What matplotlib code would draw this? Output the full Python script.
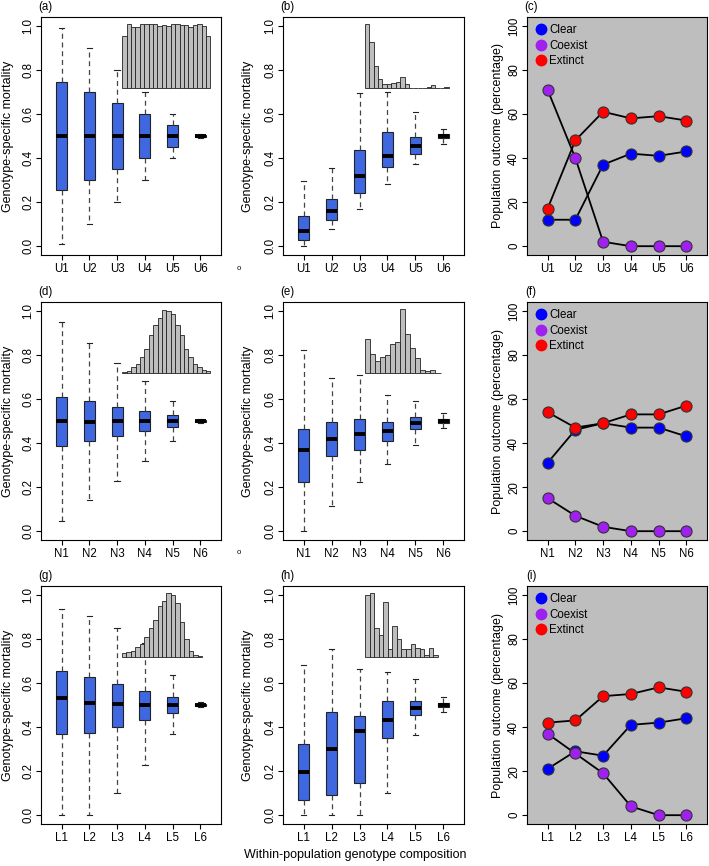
import matplotlib
matplotlib.use('Agg')
import matplotlib.pyplot as plt
from matplotlib.lines import Line2D

plt.rcParams['font.family'] = ['Liberation Sans', 'DejaVu Sans']

# group labels
labels_u = ['U1', 'U2', 'U3', 'U4', 'U5', 'U6']
labels_n = ['N1', 'N2', 'N3', 'N4', 'N5', 'N6']
labels_l = ['L1', 'L2', 'L3', 'L4', 'L5', 'L6']

# box stats per group: (whisker low, q1, median, q3, whisker high)
box_a = [(0.008, 0.255, 0.50, 0.745, 0.99), (0.10, 0.30, 0.50, 0.70, 0.90),
         (0.20, 0.35, 0.50, 0.65, 0.80), (0.30, 0.40, 0.50, 0.60, 0.70),
         (0.40, 0.45, 0.50, 0.55, 0.60), (0.49, 0.495, 0.50, 0.505, 0.51)]
box_b = [(0.0, 0.03, 0.07, 0.135, 0.295), (0.08, 0.12, 0.16, 0.215, 0.357),
         (0.17, 0.243, 0.318, 0.435, 0.695), (0.28, 0.36, 0.41, 0.518, 0.70),
         (0.375, 0.42, 0.455, 0.495, 0.61), (0.465, 0.49, 0.50, 0.51, 0.53)]
box_d = [(0.047, 0.385, 0.50, 0.61, 0.95), (0.14, 0.41, 0.497, 0.59, 0.855),
         (0.23, 0.43, 0.498, 0.565, 0.765), (0.32, 0.455, 0.50, 0.545, 0.68),
         (0.41, 0.475, 0.50, 0.525, 0.59), (0.49, 0.495, 0.50, 0.505, 0.51)]
box_e = [(0.0, 0.225, 0.37, 0.465, 0.82), (0.115, 0.34, 0.42, 0.495, 0.695),
         (0.225, 0.37, 0.443, 0.51, 0.71), (0.305, 0.41, 0.455, 0.495, 0.62),
         (0.39, 0.465, 0.49, 0.52, 0.59), (0.47, 0.49, 0.50, 0.51, 0.535)]
box_g = [(0.0, 0.37, 0.53, 0.655, 0.935), (0.0, 0.375, 0.51, 0.625, 0.905),
         (0.10, 0.40, 0.505, 0.595, 0.85), (0.23, 0.43, 0.50, 0.565, 0.78),
         (0.37, 0.465, 0.50, 0.535, 0.635), (0.49, 0.495, 0.50, 0.505, 0.515)]
box_h = [(0.0, 0.07, 0.195, 0.325, 0.68), (0.0, 0.09, 0.30, 0.47, 0.755),
         (0.0, 0.145, 0.38, 0.45, 0.665), (0.10, 0.35, 0.43, 0.52, 0.65),
         (0.365, 0.455, 0.485, 0.52, 0.62), (0.47, 0.49, 0.50, 0.51, 0.535)]

# inset histogram bar heights (relative to tallest bar)
hist_a = [0.80, 1.00, 0.94, 0.95, 0.99, 1.00, 0.99, 0.99, 0.97, 0.98,
          0.96, 0.99, 1.00, 0.98, 0.98, 0.95, 0.98, 0.99, 0.96, 0.80]
hist_b = [1.00, 0.71, 0.34, 0.13, 0.05, 0.06, 0.07, 0.09, 0.17, 0.05,
          0.0, 0.0, 0.0, 0.0, 0.01, 0.04, 0.0, 0.0, 0.01]
hist_d = [0.01, 0.03, 0.08, 0.14, 0.25, 0.37, 0.59, 0.74, 0.85, 0.98,
          0.97, 0.91, 0.74, 0.59, 0.37, 0.25, 0.14, 0.08, 0.04, 0.02]
hist_e = [0.52, 0.29, 0.18, 0.24, 0.28, 0.45, 0.47, 1.00, 0.61, 0.39,
          0.22, 0.04, 0.02, 0.04, 0.0]
hist_g = [0.05, 0.07, 0.09, 0.15, 0.19, 0.31, 0.44, 0.57, 0.79, 0.87,
          1.00, 0.96, 0.83, 0.54, 0.28, 0.08, 0.02, 0.005]
hist_h = [0.96, 1.00, 0.44, 0.34, 0.85, 0.11, 0.48, 0.28, 0.11, 0.12,
          0.20, 0.14, 0.11, 0.03, 0.14, 0.03]

# population outcome (percentage)
clear_c = [12, 12, 37, 42, 41, 43]
coexist_c = [71, 40, 2, 0, 0, 0]
extinct_c = [17, 48, 61, 58, 59, 57]
clear_f = [31, 46, 49, 47, 47, 43]
coexist_f = [15, 7, 2, 0, 0, 0]
extinct_f = [54, 47, 49, 53, 53, 57]
clear_i = [21, 29, 27, 41, 42, 44]
coexist_i = [37, 28, 19, 4, 0, 0]
extinct_i = [42, 43, 54, 55, 58, 56]

W, H = 709, 866
fig = plt.figure(figsize=(W / 100, H / 100), dpi=100)

FS_TICK = 8.3
FS_LAB = 9.0


def add_ax(left, top, right, bottom):
    """axes from pixel edges"""
    return fig.add_axes([left / W, 1 - bottom / H, (right - left) / W, (bottom - top) / H])


def style_axis(ax, labels):
    for s in ax.spines.values():
        s.set_linewidth(0.8)
    ax.set_xticks(range(1, len(labels) + 1))
    ax.set_xticklabels(labels)
    ax.set_xlim(0.26, len(labels) + 0.74)
    ax.tick_params(axis='both', direction='out', length=3.5, width=0.8, labelsize=FS_TICK)
    ax.tick_params(axis='x', pad=2.5)
    ax.tick_params(axis='y', pad=1.5, labelrotation=90)


def box_panel(ax, labels, stats, hist, span):
    """boxplot with a small histogram drawn in the top right corner"""
    bxp_stats = []
    for lo, q1, med, q3, hi in stats:
        bxp_stats.append({'whislo': lo, 'q1': q1, 'med': med, 'q3': q3, 'whishi': hi, 'fliers': []})
    ax.bxp(bxp_stats, positions=range(1, len(labels) + 1), widths=0.4, patch_artist=True,
           showfliers=False, capwidths=0.2,
           boxprops=dict(facecolor='#3F67E0', edgecolor='#222222', linewidth=0.8),
           medianprops=dict(color='black', linewidth=2.8, solid_capstyle='butt'),
           whiskerprops=dict(color='#444444', linewidth=0.9, linestyle=(0, (4, 3))),
           capprops=dict(color='#222222', linewidth=0.8))
    style_axis(ax, labels)
    ax.set_ylim(-0.04, 1.04)
    ax.set_yticks([0.0, 0.2, 0.4, 0.6, 0.8, 1.0])
    ax.set_yticklabels(['0.0', '0.2', '0.4', '0.6', '0.8', '1.0'])
    for lab in ax.get_yticklabels():
        lab.set_va('center')
    # histogram inset in data coordinates
    start, end = span
    w = (end - start) / len(hist)
    xs = [start + i * w for i in range(len(hist))]
    ax.bar(xs, [h * 0.29 for h in hist], bottom=0.72, width=w, align='edge',
           color='#BEBEBE', edgecolor='#222222', linewidth=0.6, zorder=4)


def outcome_panel(ax, labels, clear, coexist, extinct):
    x = range(1, len(labels) + 1)
    ax.set_facecolor('#BEBEBE')
    for vals in (clear, coexist, extinct):
        ax.plot(x, vals, color='black', linewidth=1.3, zorder=2)
    for vals, col in ((clear, '#0000FF'), (coexist, '#A020F0'), (extinct, '#FF0000')):
        ax.plot(x, vals, linestyle='none', marker='o', markersize=8, markerfacecolor=col,
                markeredgecolor='#333333', markeredgewidth=0.8, zorder=3)
    style_axis(ax, labels)
    ax.set_ylim(-4, 104)
    ax.set_yticks([0, 20, 40, 60, 80, 100])
    ax.set_yticklabels(['0', '20', '40', '60', '80', '100'])
    for lab in ax.get_yticklabels():
        lab.set_va('center')
    handles = [Line2D([], [], linestyle='none', marker='o', markersize=7.5, color=c)
               for c in ('#0000FF', '#A020F0', '#FF0000')]
    ax.legend(handles, ['Clear', 'Coexist', 'Extinct'], loc='upper left', frameon=False,
              fontsize=FS_TICK, handletextpad=0.2, labelspacing=0.3, borderaxespad=0.3,
              handlelength=1.1, borderpad=0.35)


rows = [(17, 255), (302, 540), (586, 824)]
cols = [(41, 221), (283, 464), (527, 707)]

panels = [
    (labels_u, box_a, hist_a, (3.18, 6.36), box_b, hist_b, (3.19, 6.19), clear_c, coexist_c, extinct_c),
    (labels_n, box_d, hist_d, (3.19, 6.36), box_e, hist_e, (3.19, 5.90), clear_f, coexist_f, extinct_f),
    (labels_l, box_g, hist_g, (3.17, 6.06), box_h, hist_h, (3.20, 5.80), clear_i, coexist_i, extinct_i),
]
letters = [['(a)', '(b)', '(c)'], ['(d)', '(e)', '(f)'], ['(g)', '(h)', '(i)']]

for r, (top, bottom) in enumerate(rows):
    labels, bx1, h1, sp1, bx2, h2, sp2, cl, co, ex = panels[r]
    ax1 = add_ax(cols[0][0], top, cols[0][1], bottom)
    box_panel(ax1, labels, bx1, h1, sp1)
    ax2 = add_ax(cols[1][0], top, cols[1][1], bottom)
    box_panel(ax2, labels, bx2, h2, sp2)
    ax3 = add_ax(cols[2][0], top, cols[2][1], bottom)
    outcome_panel(ax3, labels, cl, co, ex)

    mid = (top + bottom) / 2
    fig.text(8 / W, 1 - mid / H, 'Genotype-specific mortality', rotation=90,
             ha='center', va='center', fontsize=FS_LAB)
    fig.text(248 / W, 1 - mid / H, 'Genotype-specific mortality', rotation=90,
             ha='center', va='center', fontsize=FS_LAB)
    fig.text(498 / W, 1 - mid / H, 'Population outcome (percentage)', rotation=90,
             ha='center', va='center', fontsize=FS_LAB)
    for c, (left, right) in enumerate(cols):
        fig.text((left + 4) / W, 1 - (top - 10) / H, letters[r][c], ha='center', va='center',
                 fontsize=FS_TICK)
    if r < 2:
        fig.text(239 / W, 1 - (bottom + 13) / H, 'o', ha='center', va='center', fontsize=5.5)

fig.text(355 / W, 1 - 855 / H, 'Within-population genotype composition', ha='center',
         va='center', fontsize=FS_LAB)

fig.savefig('out.png', dpi=100)
